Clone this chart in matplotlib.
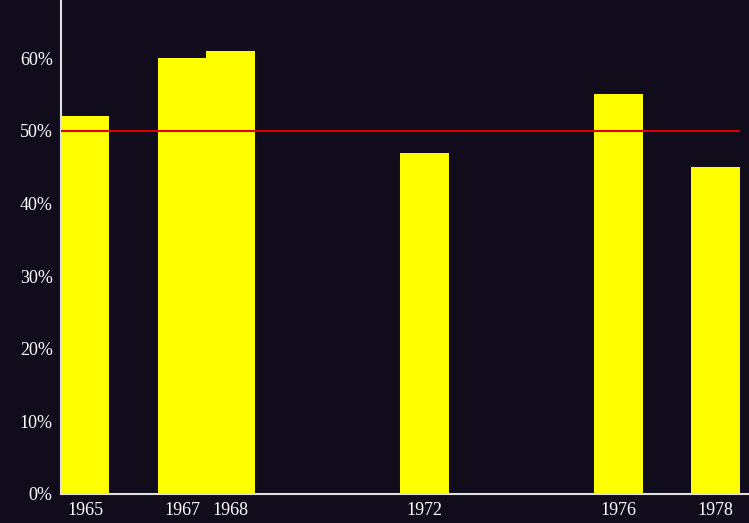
import matplotlib.pyplot as plt
from matplotlib.ticker import FuncFormatter

# values
years = [1965, 1967, 1968, 1972, 1976, 1978]
shares = [52, 60, 61, 47, 55, 45]
threshold = 50

bg = "#100c1c"

fig = plt.figure(figsize=(7.49, 5.23), dpi=100, facecolor=bg)
ax = fig.add_axes([61 / 749, 29 / 523, 688 / 749, 494 / 523])
ax.set_facecolor(bg)

ax.bar(years, shares, width=1.0, color="#ffff00", zorder=2)
ax.hlines(threshold, years[0] - 0.5, years[-1] + 0.5, color="#dd0000", linewidth=1.5, zorder=3)

ax.set_xlim(1964.5, 1978.69)
ax.set_ylim(0, 68)
ax.set_xticks(years)
ax.set_yticks(range(0, 61, 10))
ax.yaxis.set_major_formatter(FuncFormatter(lambda v, p: f"{v:.0f}%"))

for s in ["top", "right"]:
    ax.spines[s].set_visible(False)
for s in ["left", "bottom"]:
    ax.spines[s].set_color("#e0e0e0")
    ax.spines[s].set_linewidth(1.5)

ax.tick_params(length=0, colors="white", labelsize=13, pad=6)
for lbl in ax.get_xticklabels() + ax.get_yticklabels():
    lbl.set_fontfamily("Liberation Serif")

plt.savefig("out.png", dpi=100, facecolor=bg)
